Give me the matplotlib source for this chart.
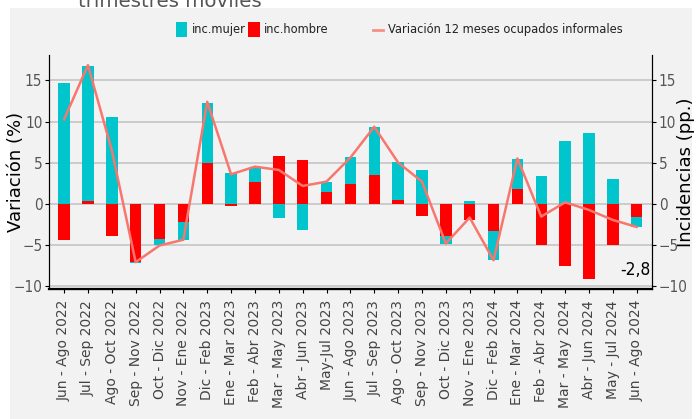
#!/usr/bin/env python3
import numpy as np
import matplotlib
matplotlib.use("Agg")
import matplotlib.pyplot as plt
from matplotlib import font_manager
from matplotlib.font_manager import FontProperties
from matplotlib.patches import Rectangle
from matplotlib.lines import Line2D

periodos = [
    "Jun - Ago 2022", "Jul - Sep 2022", "Ago - Oct 2022", "Sep - Nov 2022",
    "Oct - Dic 2022", "Nov - Ene 2022", "Dic - Feb 2023", "Ene - Mar 2023",
    "Feb - Abr 2023", "Mar - May 2023", "Abr - Jun 2023", "May-Jul 2023",
    "Jun - Ago 2023", "Jul - Sep 2023", "Ago - Oct 2023", "Sep - Nov 2023",
    "Oct - Dic 2023", "Nov - Ene 2023", "Dic - Feb 2024", "Ene - Mar 2024",
    "Feb - Abr 2024", "Mar - May 2024", "Abr - Jun 2024", "May - Jul 2024",
    "Jun - Ago 2024",
]

# incidencias (pp.)
inc_hombre = [-4.45, 0.32, -3.97, -7.15, -4.34, -2.23, 4.95, -0.24, 2.63, 5.8,
              5.27, 1.42, 2.43, 3.49, 0.45, -1.46, -3.89, -2.03, -3.36, 1.74,
              -5.03, -7.54, -9.24, -5.03, -1.58]
inc_mujer = [14.63, 16.46, 10.5, -0.05, -0.76, -2.19, 7.33, 3.69, 1.87, -1.74,
             -3.16, 1.26, 3.2, 5.79, 4.58, 4.09, -0.97, 0.28, -3.45, 3.73,
             3.4, 7.66, 8.55, 2.96, -1.26]
# variación 12 meses ocupados informales (%)
var_informales = [10.26, 16.86, 6.5, -7.13, -5.1, -4.4, 12.4, 3.57, 4.5, 4.1,
                  2.15, 2.68, 5.6, 9.36, 5.0, 2.68, -4.86, -1.7, -6.9, 5.5,
                  -1.58, 0.16, -0.77, -1.99, -2.84]

CYAN = "#00C5CD"
RED = "#FF0000"
LINE = "#F8766D"
BG = "#F2F2F2"
W, H = 699, 419

# buscar una fuente angosta (condensed) si existe
cond_file = font_manager.findfont(FontProperties(family="DejaVu Sans", stretch="condensed"))
if "ondensed" in cond_file:
    narrow = dict(family="DejaVu Sans", stretch="condensed")
    k = 1.0
else:
    narrow = dict(family="Liberation Sans")
    k = 0.85


def fx(px):
    return px / W


def fy(py):
    return 1 - py / H


fig = plt.figure(figsize=(6.99, 4.19), dpi=100, facecolor="white")
fig.patches.append(Rectangle((fx(10), 0), 682 / W, 1 - 8 / H,
                             transform=fig.transFigure, facecolor=BG,
                             edgecolor="none", zorder=-10))
fig.text(fx(78), fy(7), "trimestres móviles", fontsize=14.2, color="#555555",
         va="baseline", ha="left")

ax = fig.add_axes([fx(49.3), fy(289), (651.7 - 49.3) / W, (289 - 55) / H])
ax.set_facecolor(BG)

x = np.arange(len(periodos))
h = np.array(inc_hombre)
m = np.array(inc_mujer)
base_m = np.where(np.sign(m) == np.sign(h), h, 0)

ax.bar(x, h, width=0.48, color=RED, zorder=3)
ax.bar(x, m, bottom=base_m, width=0.48, color=CYAN, zorder=3)
ax.plot(x, var_informales, color=LINE, lw=1.8, zorder=4)

ylim = (-10.4, 18.1)
yt = [-10, -5, 0, 5, 10, 15]
ax.set_ylim(*ylim)
ax.set_xlim(-0.62, len(periodos) - 1 + 0.63)
ax.set_yticks(yt)
ax.grid(axis="y", color="#C8C8C8", lw=1.3, zorder=0)
ax.set_axisbelow(True)
ax.spines["top"].set_visible(False)
ax.spines["bottom"].set_linewidth(1.6)
ax.tick_params(axis="y", labelsize=11 * k, labelcolor="#555555", length=3, width=0.8, pad=2)
for lab in ax.get_yticklabels():
    lab.set(**narrow)
ax.set_xticks(x)
ax.set_xticklabels(periodos, rotation=90, fontsize=10, color="#444444")
ax.tick_params(axis="x", length=3, width=0.8, pad=5)
ax.set_ylabel("Variación (%)", fontsize=13, color="black")
ax.yaxis.set_label_coords(-0.041, 0.5)

ax2 = ax.twinx()
ax2.set_ylim(*ylim)
ax2.set_yticks(yt)
ax2.tick_params(axis="y", labelsize=11 * k, labelcolor="#555555", length=3, width=0.8, pad=2)
for lab in ax2.get_yticklabels():
    lab.set(**narrow)
ax2.spines["top"].set_visible(False)
ax2.set_ylabel("Incidencias (pp.)", fontsize=13, color="black")
ax2.yaxis.set_label_coords(1.042, 0.5)

ax.text(24.56, -8.1, "-2,8", fontsize=12.5 * k, ha="right", va="center",
        color="black", zorder=5, **narrow)

# leyenda superior
ley_y = 29.5
fs_ley = 9.2 * k
fig.patches.append(Rectangle((fx(176), fy(37)), 11 / W, 15 / H, transform=fig.transFigure,
                             facecolor=CYAN, edgecolor="none"))
fig.text(fx(192), fy(ley_y), "inc.mujer", fontsize=fs_ley, va="center", ha="left",
         color="#222222", **narrow)
fig.patches.append(Rectangle((fx(247.5), fy(37)), 12 / W, 15 / H, transform=fig.transFigure,
                             facecolor=RED, edgecolor="none"))
fig.text(fx(264), fy(ley_y), "inc.hombre", fontsize=fs_ley, va="center", ha="left",
         color="#222222", **narrow)
fig.lines.append(Line2D([fx(372.5), fx(383)], [fy(30), fy(30)], transform=fig.transFigure,
                        color=LINE, lw=2, alpha=0.8))
fig.text(fx(388), fy(ley_y), "Variación 12 meses ocupados informales", fontsize=fs_ley,
         va="center", ha="left", color="#222222", **narrow)

fig.savefig("out.png", dpi=100, facecolor="white")
